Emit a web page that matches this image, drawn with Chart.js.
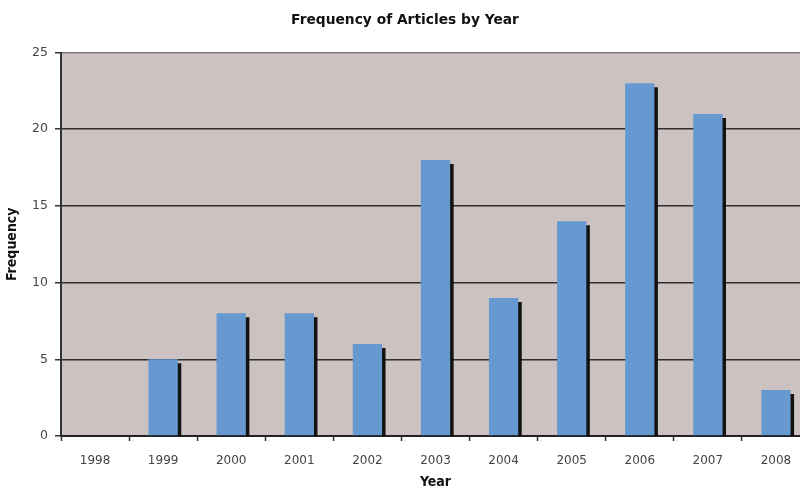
<!DOCTYPE html>
<html>
<head>
<meta charset="utf-8">
<script src="https://cdn.jsdelivr.net/npm/chart.js@4"></script>
<style>
  html, body { margin: 0; padding: 0; background: #fff; overflow: hidden; }
  #wrap { width: 812px; height: 491px; }
</style>
</head>
<body>
<div id="wrap"><canvas id="freqChart"></canvas></div>
<script>
// Dados
const anos = ['1998', '1999', '2000', '2001', '2002', '2003', '2004', '2005', '2006', '2007', '2008'];
const frequencias = [0, 5, 8, 8, 6, 18, 9, 14, 23, 21, 3];
const ticksY = [0, 5, 10, 15, 20, 25];

const fonteTitulo = '"DejaVu Sans", sans-serif';
const fonteEixo = '"DejaVu Sans Condensed", "DejaVu Sans", sans-serif';
const fonteTicks = '"DejaVu Sans", sans-serif';

// Fundo cinza da área do gráfico
const fundoArea = {
  id: 'fundoArea',
  beforeDraw(chart) {
    const { ctx, chartArea: a } = chart;
    ctx.save();
    ctx.fillStyle = '#cbc2c1';
    ctx.fillRect(a.left, a.top, a.right - a.left, a.bottom - a.top);
    ctx.restore();
  }
};

// Sombra preta à direita das barras
const sombraBarras = {
  id: 'sombraBarras',
  beforeDatasetsDraw(chart) {
    const ctx = chart.ctx;
    ctx.shadowColor = 'rgba(10,10,10,0.95)';
    ctx.shadowBlur = 0;
    ctx.shadowOffsetX = 3.5;
    ctx.shadowOffsetY = 4;
  },
  afterDatasetsDraw(chart) {
    const ctx = chart.ctx;
    ctx.shadowColor = 'rgba(0,0,0,0)';
    ctx.shadowOffsetX = 0;
    ctx.shadowOffsetY = 0;
  }
};

const ctx = document.getElementById('freqChart').getContext('2d');
new Chart(ctx, {
  type: 'bar',
  data: {
    labels: anos,
    datasets: [{
      label: 'Frequency',
      data: frequencias,
      backgroundColor: '#6699cf',
      borderWidth: 0,
      categoryPercentage: 1,
      barPercentage: 0.43
    }]
  },
  options: {
    responsive: true,
    maintainAspectRatio: false,
    animation: false,
    layout: { padding: { left: 0, right: 2, top: 0, bottom: 0 } },
    plugins: {
      legend: { display: false },
      tooltip: { enabled: false },
      title: {
        display: true,
        text: 'Frequency of Articles by Year',
        color: '#111',
        font: { family: fonteTitulo, size: 13.8, weight: 'bold' },
        padding: { top: 12, bottom: 24 }
      }
    },
    scales: {
      x: {
        afterFit(scale) { scale.height = 55; },
        grid: {
          offset: true,
          drawOnChartArea: false,
          tickLength: 5,
          tickColor: '#333',
          tickWidth: 1.5
        },
        border: { color: '#222', width: 2 },
        ticks: {
          color: '#444',
          font: { family: fonteTicks, size: 12 },
          padding: 13,
          maxRotation: 0
        },
        title: {
          display: true,
          text: 'Year',
          color: '#111',
          font: { family: fonteEixo, size: 14, weight: 'bold' },
          padding: { top: 0, bottom: 0 }
        }
      },
      y: {
        min: 0,
        max: 25,
        afterFit(scale) { scale.width = 61; },
        afterBuildTicks(scale) { scale.ticks = ticksY.map(v => ({ value: v })); },
        grid: {
          color(c) {
            if (c.tick.value === 25) return '#7a7a7a';
            if (c.tick.value === 0) return 'rgba(0,0,0,0)';
            return '#2e2e2e';
          },
          lineWidth: 1.5,
          tickLength: 6,
          tickColor: '#333',
          tickWidth: 1.5
        },
        border: { color: '#333', width: 2 },
        ticks: {
          color: '#444',
          font: { family: fonteTicks, size: 12.5 },
          padding: 7
        },
        title: {
          display: true,
          text: 'Frequency',
          color: '#111',
          font: { family: fonteEixo, size: 14, weight: 'bold' },
          padding: { top: 4, bottom: 0 }
        }
      }
    }
  },
  plugins: [fundoArea, sombraBarras]
});
</script>
</body>
</html>
